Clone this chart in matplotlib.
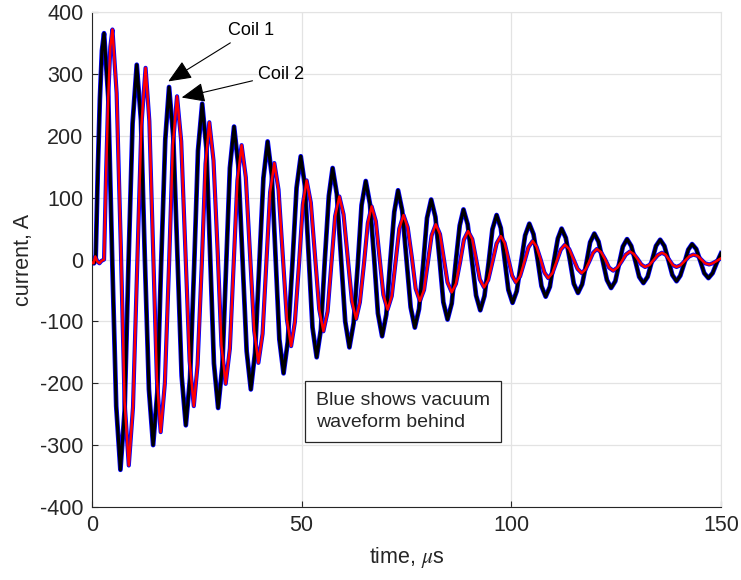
import matplotlib
matplotlib.use("Agg")
import matplotlib.pyplot as plt

# Coil 1 (black trace, vacuum reference in blue behind it)
coil1_t = [
    0.0, 0.5, 0.9, 1.4, 1.9, 2.4, 2.9,
    3.9, 4.8, 5.8, 6.8,
    7.8, 8.7, 9.7, 10.7,
    11.7, 12.6, 13.6, 14.6,
    15.6, 16.5, 17.5, 18.4,
    19.4, 20.4, 21.4, 22.4,
    23.4, 24.4, 25.3, 26.3,
    27.3, 28.2, 29.1, 30.1,
    31.1, 32.0, 32.9, 33.9,
    34.9, 35.9, 36.9, 37.9,
    38.9, 39.9, 40.9, 41.9,
    42.9, 43.8, 44.7, 45.7,
    46.7, 47.8, 48.8, 49.8,
    50.8, 51.7, 52.6, 53.6,
    54.6, 55.5, 56.5, 57.4,
    58.4, 59.4, 60.4, 61.4,
    62.4, 63.4, 64.3, 65.3,
    66.3, 67.3, 68.2, 69.2,
    70.2, 71.1, 72.1, 73.0,
    74.0, 75.0, 76.0, 77.0,
    78.0, 79.0, 79.9, 80.9,
    81.9, 82.9, 83.8, 84.8,
    85.8, 86.7, 87.7, 88.6,
    89.6, 90.6, 91.6, 92.6,
    93.6, 94.6, 95.5, 96.5,
    97.5, 98.4, 99.3, 100.3,
    101.3, 102.3, 103.3, 104.3,
    105.3, 106.3, 107.2, 108.2,
    109.2, 110.1, 111.1, 112.0,
    113.0, 114.0, 114.9, 115.9,
    116.9, 117.9, 118.8, 119.8,
    120.8, 121.8, 122.8, 123.8,
    124.8, 125.7, 126.6, 127.6,
    128.6, 129.6, 130.5, 131.5,
    132.5, 133.5, 134.5, 135.5,
    136.5, 137.5, 138.4, 139.4,
    140.3, 141.3, 142.2, 143.1,
    144.1, 145.1, 146.0, 147.0,
    148.0, 149.0, 150.0,
]
coil1_i = [
    -4, -6, 0, 140, 259, 338, 366,
    263, 13, -237, -340,
    -245, -13, 220, 315,
    225, 8, -210, -300,
    -215, -10, 194, 279,
    199, 6, -188, -268,
    -192, -8, 176, 252,
    180, 6, -168, -240,
    -173, -12, 148, 215,
    153, 2, -148, -210,
    -151, -10, 132, 191,
    136, 4, -129, -184,
    -133, -8, 116, 167,
    119, 4, -110, -158,
    -113, -5, 103, 148,
    106, 3, -100, -142,
    -103, -8, 88, 127,
    90, 2, -87, -124,
    -89, -6, 77, 112,
    79, 1, -77, -110,
    -80, -7, 67, 97,
    69, 0, -69, -97,
    -71, -8, 55, 81,
    57, 0, -58, -82,
    -59, -5, 49, 72,
    51, 1, -49, -70,
    -51, -6, 39, 58,
    41, -1, -43, -60,
    -44, -5, 34, 50,
    35, -2, -39, -54,
    -40, -6, 28, 42,
    29, -2, -33, -46,
    -35, -7, 21, 33,
    22, -3, -28, -38,
    -28, -3, 22, 32,
    22, -2, -25, -35,
    -26, -5, 16, 25,
    17, -3, -22, -30,
    -22, -5, 10,
]

# Coil 2 (red trace, vacuum reference in blue behind it)
coil2_t = [
    0.0, 0.4, 0.8, 1.3, 1.8, 2.3, 2.9,
    3.4, 3.9, 4.4, 4.9,
    5.9, 6.9, 7.8, 8.8,
    9.8, 10.8, 11.8, 12.8,
    13.7, 14.6, 15.5, 16.4,
    17.4, 18.4, 19.3, 20.3,
    21.3, 22.3, 23.3, 24.3,
    25.2, 26.2, 27.1, 28.0,
    29.0, 30.0, 30.9, 31.9,
    32.9, 33.8, 34.7, 35.7,
    36.7, 37.7, 38.7, 39.7,
    40.7, 41.6, 42.5, 43.5,
    44.5, 45.5, 46.5, 47.5,
    48.4, 49.4, 50.3, 51.2,
    52.2, 53.2, 54.2, 55.2,
    56.2, 57.1, 58.0, 59.0,
    60.0, 61.0, 62.0, 63.0,
    63.9, 64.9, 65.8, 66.7,
    67.7, 68.6, 69.5, 70.5,
    71.5, 72.4, 73.3, 74.3,
    75.3, 76.3, 77.2, 78.2,
    79.2, 80.1, 81.0, 82.0,
    83.0, 83.9, 84.8, 85.8,
    86.8, 87.8, 88.7, 89.7,
    90.7, 91.6, 92.5, 93.5,
    94.5, 95.5, 96.5, 97.5,
    98.4, 99.3, 100.2, 101.1,
    102.1, 103.1, 104.1, 105.1,
    106.0, 107.0, 107.9, 108.8,
    109.8, 110.8, 111.8, 112.8,
    113.8, 114.8, 115.8, 116.8,
    117.7, 118.6, 119.5, 120.4,
    121.4, 122.4, 123.3, 124.3,
    125.3, 126.3, 127.3, 128.3,
    129.2, 130.1, 131.0, 131.9,
    132.9, 133.9, 134.9, 135.9,
    136.8, 137.7, 138.5, 139.4,
    140.4, 141.4, 142.4, 143.4,
    144.4, 145.3, 146.2, 147.2,
    148.0, 148.8, 149.5, 150.0,
]
coil2_i = [
    -5, -6, 5, -3, -6, -2, 0,
    142, 263, 344, 372,
    269, 20, -230, -333,
    -239, -12, 216, 310,
    224, 16, -193, -279,
    -200, -8, 185, 264,
    191, 14, -164, -237,
    -170, -8, 155, 222,
    160, 11, -139, -201,
    -144, -8, 128, 185,
    133, 9, -115, -167,
    -120, -6, 109, 156,
    113, 8, -97, -140,
    -101, -6, 89, 128,
    92, 6, -80, -116,
    -84, -7, 70, 102,
    73, 3, -67, -96,
    -69, -5, 59, 86,
    62, 3, -57, -81,
    -59, -5, 50, 72,
    52, 3, -47, -67,
    -49, -5, 39, 57,
    41, 2, -37, -53,
    -39, -4, 32, 46,
    33, 1, -32, -45,
    -33, -4, 26, 38,
    27, 1, -26, -37,
    -27, -4, 20, 30,
    21, 0, -21, -30,
    -22, -3, 16, 24,
    17, 1, -15, -22,
    -16, -3, 11, 17,
    12, 0, -13, -18,
    -13, -3, 8, 13,
    9, 1, -8, -12,
    -9, -1, 7, 11,
    8, -1, -9, -12,
    -9, -2, 5, 8,
    6, 0, -6, -8,
    -6, -3, 0, 2,
]

x_ticks = [0, 50, 100, 150]
y_ticks = [-400, -300, -200, -100, 0, 100, 200, 300, 400]

plt.rcParams["font.family"] = ["Liberation Sans", "DejaVu Sans"]
plt.rcParams["mathtext.fontset"] = "stix"
plt.rcParams["axes.unicode_minus"] = False

dark = "#262626"
fig = plt.figure(figsize=(7.41, 5.80), dpi=100)
ax = fig.add_axes([0.124, 0.126, 0.849, 0.853])

# blue vacuum waveforms behind
ax.plot(coil1_t, coil1_i, color="#0000ff", lw=3.4, solid_joinstyle="round", zorder=2)
ax.plot(coil2_t, coil2_i, color="#0000ff", lw=3.0, solid_joinstyle="round", zorder=2)
# coil traces on top
ax.plot(coil1_t, coil1_i, color="black", lw=2.3, solid_joinstyle="round", zorder=3)
ax.plot(coil2_t, coil2_i, color="red", lw=1.8, solid_joinstyle="round", zorder=4)

ax.set_xlim(0, 150)
ax.set_ylim(-400, 400)
ax.set_xticks(x_ticks)
ax.set_yticks(y_ticks)
ax.grid(True, color="#e3e3e3", lw=0.9)
ax.set_axisbelow(True)
ax.tick_params(direction="in", length=4, width=0.8, colors=dark, labelsize=15.5, pad=6)
for side in ["left", "bottom"]:
    ax.spines[side].set_color(dark)
    ax.spines[side].set_linewidth(0.8)
for side in ["top", "right"]:
    ax.spines[side].set_color("#e3e3e3")

ax.set_xlabel(r"time, $\mu$s", fontsize=15.5, color=dark, labelpad=6)
ax.set_ylabel("current, A", fontsize=15.5, color=dark, labelpad=4)

arrow_kw = dict(arrowstyle="-|>,head_length=0.9,head_width=0.38", color="black",
                lw=0.8, mutation_scale=16, shrinkA=2, shrinkB=0)
ax.annotate("Coil 1", xy=(18.2, 288), xytext=(37.9, 371), fontsize=13,
            ha="center", va="center", arrowprops=arrow_kw, zorder=6)
ax.annotate("Coil 2", xy=(21.4, 262), xytext=(45.1, 300), fontsize=13,
            ha="center", va="center", arrowprops=arrow_kw, zorder=6)

ax.text(53.4, -246, "Blue shows vacuum\nwaveform behind", fontsize=14,
        ha="left", va="center", linespacing=1.4, color=dark, zorder=6,
        bbox=dict(boxstyle="square,pad=0.55", facecolor="white", edgecolor=dark, lw=0.9))

plt.savefig("out.png", dpi=100)
